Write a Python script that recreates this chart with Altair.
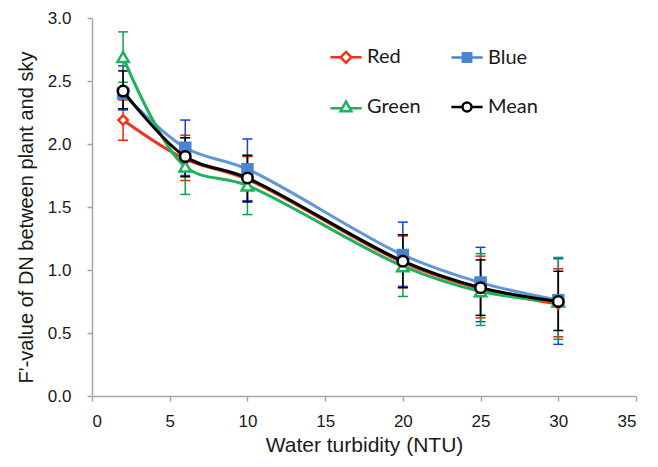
import altair as alt
import pandas as pd

turbidity = [2, 6, 10, 20, 25, 30]

red_y = [2.19, 1.88, 1.72, 1.06, 0.85, 0.73]
red_hi = [2.35, 2.07, 1.90, 1.27, 1.11, 1.01]
red_lo = [2.03, 1.71, 1.55, 0.86, 0.62, 0.47]

blue_y = [2.40, 1.97, 1.80, 1.12, 0.90, 0.76]
blue_hi = [2.62, 2.19, 2.04, 1.38, 1.18, 1.09]
blue_lo = [2.27, 1.75, 1.55, 0.87, 0.59, 0.41]

green_y = [2.69, 1.82, 1.67, 1.03, 0.83, 0.75]
green_hi = [2.89, 2.05, 1.91, 1.28, 1.13, 1.10]
green_lo = [2.49, 1.60, 1.44, 0.79, 0.56, 0.45]

mean_y = [2.42, 1.90, 1.73, 1.07, 0.86, 0.75]
mean_hi = [2.58, 2.05, 1.91, 1.28, 1.08, 0.99]
mean_lo = [2.28, 1.74, 1.54, 0.86, 0.64, 0.52]

series_names = ["Red", "Blue", "Green", "Mean"]
line_colors = ["#F3321C", "#6396D8", "#1FB25A", "#000000"]
err_colors = ["#FF1A00", "#1A3FE0", "#12A04A", "#000000"]
marker_fill = ["#FFFFFF", "#4A86CF", "#FFFFFF", "#FFFFFF"]
marker_stroke = ["#F3321C", "#4A86CF", "#1FB25A", "#000000"]
marker_shape = ["diamond", "square", "triangle-up", "circle"]
marker_size = [90, 100, 130, 110]

legend_paths = [
    "M-2.6,0L-0.9,0M0.9,0L2.6,0M0,-0.9L0.9,0L0,0.9L-0.9,0Z",
    "M-2.6,0L-0.7,0M0.7,0L2.6,0M-0.7,-0.7L0.7,-0.7L0.7,0.7L-0.7,0.7Z",
    "M-2.6,0.2L-0.6,0.2M0.6,0.2L2.6,0.2M0,-0.9L0.9,0.7L-0.9,0.7Z",
    "M-2.6,0L-0.75,0M0.75,0L2.6,0M0.75,0A0.75,0.75,0,1,1,-0.75,0A0.75,0.75,0,1,1,0.75,0Z",
]

ys = [red_y, blue_y, green_y, mean_y]
his = [red_hi, blue_hi, green_hi, mean_hi]
los = [red_lo, blue_lo, green_lo, mean_lo]

rows = []
for name, y, hi, lo in zip(series_names, ys, his, los):
    for xv, yv, h, l in zip(turbidity, y, hi, lo):
        rows.append({"series": name, "x": xv, "y": yv, "hi": h, "lo": l})
df = pd.DataFrame(rows)

FONT = "Liberation Sans"

xscale = alt.Scale(domain=[0, 35], nice=False, zero=False)
yscale = alt.Scale(domain=[0, 3], nice=False, zero=False)

xaxis = alt.Axis(
    values=[0, 5, 10, 15, 20, 25, 30, 35], title="Water turbidity (NTU)",
    grid=False, domainColor="#A6A6A6", domainWidth=1.5, tickColor="#A6A6A6",
    tickWidth=1.5, tickSize=5, labelFont=FONT, labelFontSize=17, labelColor="#1a1a1a",
    labelPadding=12, titleFont=FONT, titleFontSize=21, titleFontWeight="normal",
    titleColor="#1a1a1a", titlePadding=5,
)
yaxis = alt.Axis(
    values=[0, 0.5, 1.0, 1.5, 2.0, 2.5, 3.0], format=".1f",
    title="F'-value of DN between plant and sky",
    grid=False, domainColor="#A6A6A6", domainWidth=1.5, tickColor="#A6A6A6",
    tickWidth=1.5, tickSize=5, labelFont=FONT, labelFontSize=17, labelColor="#1a1a1a",
    labelPadding=16, titleFont=FONT, titleFontSize=20, titleFontWeight="normal",
    titleColor="#1a1a1a", titleX=-66, titleY=199, titleBaseline="middle",
)


def X(field="x:Q"):
    return alt.X(field, scale=xscale, axis=xaxis)


def Y(field):
    return alt.Y(field, scale=yscale, axis=yaxis)


base = alt.Chart(df)
layers = []
for i, name in enumerate(series_names):
    sub = base.transform_filter(alt.datum.series == name)
    vert = sub.mark_rule(color=err_colors[i], strokeWidth=1.5).encode(
        x=X(), y=Y("lo:Q"), y2="hi:Q")
    cap_lo = sub.mark_rule(color=err_colors[i], strokeWidth=1.5, xOffset=-5, x2Offset=5).encode(
        x=X(), x2="x:Q", y=Y("lo:Q"))
    cap_hi = sub.mark_rule(color=err_colors[i], strokeWidth=1.5, xOffset=-5, x2Offset=5).encode(
        x=X(), x2="x:Q", y=Y("hi:Q"))
    layers += [vert, cap_lo, cap_hi]

for i, name in enumerate(series_names):
    sub = base.transform_filter(alt.datum.series == name)
    line = sub.mark_line(color=line_colors[i], strokeWidth=3, interpolate="catmull-rom").encode(
        x=X(), y=Y("y:Q"), order="x:Q")
    pts = sub.mark_point(shape=marker_shape[i], size=marker_size[i], filled=False,
                         fill=marker_fill[i], fillOpacity=1, stroke=marker_stroke[i],
                         strokeWidth=2.5, opacity=1).encode(
        x=X(), y=Y("y:Q"))
    layers += [line, pts]

legend_layer = base.mark_point(opacity=0, size=144, strokeWidth=2.5).encode(
    x=X(), y=Y("y:Q"),
    shape=alt.Shape("series:N", scale=alt.Scale(domain=series_names, range=legend_paths), title=None),
    stroke=alt.Stroke("series:N", scale=alt.Scale(domain=series_names, range=marker_stroke), title=None),
    fill=alt.Fill("series:N", scale=alt.Scale(domain=series_names, range=marker_fill), title=None),
)
layers.append(legend_layer)

chart = alt.layer(*layers).properties(
    width=544, height=378,
    autosize=alt.AutoSizeParams(type="none"),
    padding={"left": 92, "top": 18, "right": 22, "bottom": 71},
).configure_view(stroke=None).configure_legend(
    orient="none", legendX=244, legendY=29, columns=2, direction="horizontal",
    symbolOpacity=1, symbolStrokeWidth=2.5, symbolSize=144,
    labelFont="Lato", labelFontSize=20, labelColor="#1a1a1a", labelOffset=11,
    columnPadding=25, rowPadding=28, symbolType="circle",
)

chart.save("out.html", embed_options={"renderer": "svg", "actions": False})
